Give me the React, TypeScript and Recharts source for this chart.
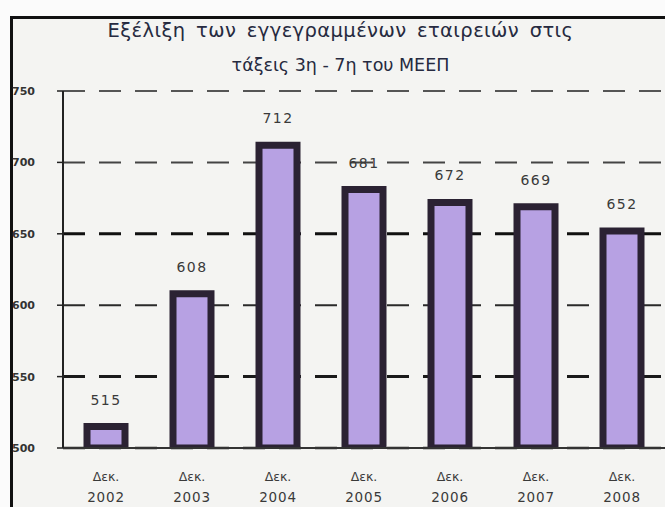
import React from "react";
import { BarChart, Bar, XAxis, YAxis, CartesianGrid, LabelList } from "recharts";

const months = ["Δεκ.", "Δεκ.", "Δεκ.", "Δεκ.", "Δεκ.", "Δεκ.", "Δεκ."];
const years = ["2002", "2003", "2004", "2005", "2006", "2007", "2008"];
const companies = [515, 608, 712, 681, 672, 669, 652];
const yTicks = [500, 550, 600, 650, 700, 750];
const titleLines = ["Εξέλιξη των εγγεγραμμένων εταιρειών στις", "τάξεις 3η - 7η του ΜΕΕΠ"];

const data = years.map((y, i) => ({ key: y, month: months[i], year: y, value: companies[i] }));

const gridLook = [
  { stroke: "#222", w: 2.5 },
  { stroke: "#1a1a1a", w: 3 },
  { stroke: "#2a2a2a", w: 2 },
  { stroke: "#111", w: 3 },
  { stroke: "#444", w: 2 },
  { stroke: "#555", w: 1.8 },
];

const GridLine = (p: any) => {
  const look = gridLook[p.index] || gridLook[0];
  return (
    <line
      key={p.key}
      x1={p.x1}
      y1={p.y1}
      x2={p.x2}
      y2={p.y2}
      stroke={look.stroke}
      strokeWidth={look.w}
      strokeDasharray="22 14"
      fill="none"
    />
  );
};

const XTick = (props: any) => {
  const { x, y, payload, index } = props;
  return (
    <g transform={`translate(${x},${y})`}>
      <text textAnchor="middle" fontFamily="DejaVu Sans" fontSize={12.5} fill="#3a3a3a">
        <tspan x={0} dy={25}>{months[index]}</tspan>
        <tspan x={0} dy={21} fontSize={13.5} letterSpacing={0.8}>{payload.value}</tspan>
      </text>
    </g>
  );
};

export default function App() {
  return (
    <div style={{ position: "fixed", left: 0, top: 0, width: 665, height: 507, background: "#fbfbfb", overflow: "hidden" }}>
      <div style={{ position: "absolute", left: 10, top: 16, right: -10, bottom: -10, borderLeft: "3px solid #111", borderTop: "3px solid #111", background: "#f4f4f2" }} />
      <div style={{ position: "absolute", left: 0, width: 665, top: 14, textAlign: "center", fontFamily: "DejaVu Sans", color: "#262a40", lineHeight: "34px", paddingLeft: 8 }}>
        <div style={{ fontSize: 19.5, letterSpacing: 0.4, wordSpacing: 4 }}>{titleLines[0]}</div>
        <div style={{ fontSize: 17.5 }}>{titleLines[1]}</div>
      </div>
      <div style={{ position: "absolute", left: 0, top: 0 }}>
        <BarChart width={665} height={507} data={data} margin={{ top: 91, right: 0, bottom: 9, left: 0 }} barCategoryGap={0}>
          <CartesianGrid horizontal={GridLine} vertical={false} />
          <XAxis
            dataKey="year"
            tick={<XTick />}
            interval={0}
            height={50}
            axisLine={{ stroke: "#333", strokeWidth: 2 }}
            tickLine={false}
          />
          <YAxis
            domain={[500, 750]}
            ticks={yTicks}
            width={63}
            tickSize={6}
            tickMargin={22}
            axisLine={{ stroke: "#222", strokeWidth: 2 }}
            tickLine={{ stroke: "#222", strokeWidth: 1.5 }}
            tick={{ fontFamily: "DejaVu Sans", fontSize: 11, fontWeight: "bold", fill: "#333" }}
            allowDataOverflow
          />
          <Bar dataKey="value" barSize={38} fill="#b7a1e3" stroke="#2b2233" strokeWidth={7} isAnimationActive={false}>
            <LabelList dataKey="value" position="top" offset={22} fontFamily="DejaVu Sans" fontSize={14} letterSpacing={1.5} fill="#3a3a3a" />
          </Bar>
        </BarChart>
      </div>
    </div>
  );
}
